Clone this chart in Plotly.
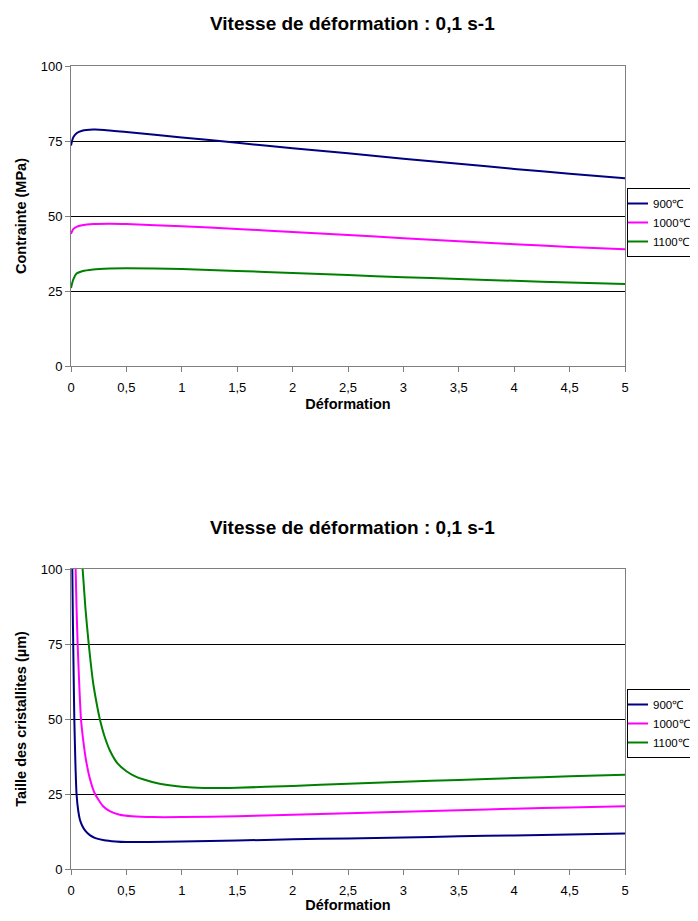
import plotly.graph_objects as go

# ---------- data ----------
series_names = ["900℃", "1000℃", "1100℃"]
series_colors = ["#000080", "#FF00FF", "#008000"]

stress_x_900 = [0, 0.02, 0.05, 0.1, 0.2, 0.3, 0.5, 1, 1.5, 2, 2.5, 3, 3.5, 4, 4.5, 5]
stress_y_900 = [73.5, 76.2, 77.6, 78.4, 78.8, 78.7, 78.0, 76.2, 74.4, 72.6, 70.9, 69.1, 67.4, 65.7, 64.1, 62.6]
stress_x_1000 = [0, 0.02, 0.05, 0.1, 0.2, 0.35, 0.5, 1, 1.5, 2, 2.5, 3, 3.5, 4, 4.5, 5]
stress_y_1000 = [44.0, 45.6, 46.4, 46.9, 47.3, 47.4, 47.3, 46.6, 45.7, 44.7, 43.7, 42.6, 41.6, 40.6, 39.7, 38.9]
stress_x_1100 = [0, 0.02, 0.05, 0.1, 0.2, 0.35, 0.5, 1, 1.5, 2, 2.5, 3, 3.5, 4, 4.5, 5]
stress_y_1100 = [26.0, 28.8, 30.8, 31.6, 32.2, 32.5, 32.6, 32.3, 31.7, 31.0, 30.3, 29.6, 29.0, 28.4, 27.8, 27.3]

size_x_900 = [0.012, 0.016, 0.02, 0.025, 0.03, 0.04, 0.05, 0.065, 0.08, 0.1, 0.13, 0.17, 0.22, 0.3,
              0.4, 0.5, 0.7, 1, 1.5, 2, 2.5, 3, 3.5, 4, 4.5, 5]
size_y_900 = [100, 86, 75, 62, 50, 35, 25, 19.5, 16.5, 14.5, 12.7, 11.3, 10.3, 9.6,
              9.2, 9.0, 9.0, 9.2, 9.5, 9.9, 10.2, 10.5, 10.9, 11.2, 11.5, 11.8]
size_x_1000 = [0.042, 0.05, 0.06, 0.075, 0.09, 0.11, 0.135, 0.17, 0.217, 0.29, 0.35, 0.44, 0.55,
               0.74, 1, 1.5, 2, 2.5, 3, 3.5, 4, 4.5, 5]
size_y_1000 = [100, 87, 75, 61, 50, 43, 36.4, 30.2, 25, 20.9, 19.3, 18.1, 17.6,
               17.3, 17.3, 17.6, 18.1, 18.6, 19.1, 19.6, 20.1, 20.5, 20.9]
size_x_1100 = [0.105, 0.13, 0.16, 0.2, 0.23, 0.26, 0.3, 0.35, 0.42, 0.5, 0.58, 0.65, 0.8, 1, 1.2, 1.5,
               2, 2.5, 3, 3.5, 4, 4.5, 5]
size_y_1100 = [100, 87, 75, 62, 55.5, 50, 44.5, 39.6, 35.2, 32.6, 30.9, 29.9, 28.4, 27.4, 27.0, 27.1,
               27.7, 28.4, 29.1, 29.7, 30.3, 30.9, 31.4]

x_ticks = [0, 0.5, 1, 1.5, 2, 2.5, 3, 3.5, 4, 4.5, 5]
y_ticks = [0, 25, 50, 75, 100]

chart_title = "Vitesse de déformation : 0,1 s-1"
x_title = "Déformation"
y_title_top = "Contrainte (MPa)"
y_title_bottom = "Taille des cristallites (µm)"

# ---------- figure ----------
# the page body has an 8px margin; size the figure so it fits the 698x921 window
OFF = 8
W, H = 698 - 2 * OFF, 921 - 2 * OFF
FONT = "Liberation Sans, Arial, sans-serif"

def px_x(v):
    return (v - OFF) / W

def px_y(v):
    return 1 - (v - OFF) / H

fig = go.Figure()

top_sets = [(stress_x_900, stress_y_900), (stress_x_1000, stress_y_1000), (stress_x_1100, stress_y_1100)]
bot_sets = [(size_x_900, size_y_900), (size_x_1000, size_y_1000), (size_x_1100, size_y_1100)]

for (xs, ys), name, col in zip(top_sets, series_names, series_colors):
    fig.add_trace(go.Scatter(x=xs, y=ys, mode="lines", name=name,
                             line=dict(color=col, width=2, shape="spline", smoothing=0.6),
                             xaxis="x", yaxis="y", legend="legend"))
for (xs, ys), name, col in zip(bot_sets, series_names, series_colors):
    fig.add_trace(go.Scatter(x=xs, y=ys, mode="lines", name=name,
                             line=dict(color=col, width=2, shape="spline", smoothing=0.6),
                             xaxis="x2", yaxis="y2", legend="legend2"))

xdom = [px_x(71), px_x(625)]
ydom_top = [px_y(366), px_y(66)]
ydom_bot = [px_y(869), px_y(569)]

axis_line = "#7f7f7f"
tickfont = dict(family=FONT, size=13, color="black")
titlefont = dict(family=FONT, size=14.5, color="black")

def xaxis_cfg(anchor):
    return dict(domain=xdom, anchor=anchor, range=[0, 5], tickvals=x_ticks,
                ticks="outside", ticklen=5, tickcolor=axis_line, tickwidth=1,
                showline=True, linecolor=axis_line, linewidth=1, mirror=True,
                showgrid=False, zeroline=False, tickfont=tickfont,
                ticklabelstandoff=4,
                title=dict(text="<b>" + x_title + "</b>", font=titlefont, standoff=5))

def yaxis_cfg(anchor, dom, title):
    return dict(domain=dom, anchor=anchor, range=[0, 100], tickvals=y_ticks,
                ticks="outside", ticklen=5, tickcolor=axis_line, tickwidth=1,
                showline=True, linecolor=axis_line, linewidth=1, mirror=True,
                showgrid=True, gridcolor="black", gridwidth=1, zeroline=False,
                tickfont=tickfont,
                title=dict(text="<b>" + title + "</b>", font=titlefont, standoff=10))

legend_common = dict(bgcolor="white", bordercolor="black", borderwidth=1,
                     font=dict(family=FONT, size=11.5, color="black"),
                     itemwidth=30, indentation=-15, tracegroupgap=0,
                     xanchor="left", yanchor="top",
                     x=px_x(627), itemclick=False, itemdoubleclick=False)

fig.update_layout(
    width=W, height=H,
    margin=dict(l=0, r=0, t=0, b=0, autoexpand=False),
    paper_bgcolor="white", plot_bgcolor="white",
    separators=", ",
    font=dict(family=FONT, color="black"),
    xaxis=xaxis_cfg("y"),
    yaxis=yaxis_cfg("x", ydom_top, y_title_top),
    xaxis2=xaxis_cfg("y2"),
    yaxis2=yaxis_cfg("x2", ydom_bot, y_title_bottom),
    legend=dict(**legend_common, y=px_y(188)),
    legend2=dict(**legend_common, y=px_y(689)),
    annotations=[
        dict(text="<b>" + chart_title + "</b>", x=px_x(352), y=px_y(24), xref="paper", yref="paper",
             showarrow=False, xanchor="center", yanchor="middle",
             font=dict(family=FONT, size=19, color="black")),
        dict(text="<b>" + chart_title + "</b>", x=px_x(352), y=px_y(527), xref="paper", yref="paper",
             showarrow=False, xanchor="center", yanchor="middle",
             font=dict(family=FONT, size=19, color="black")),
    ],
)

fig.write_html("out.html")
